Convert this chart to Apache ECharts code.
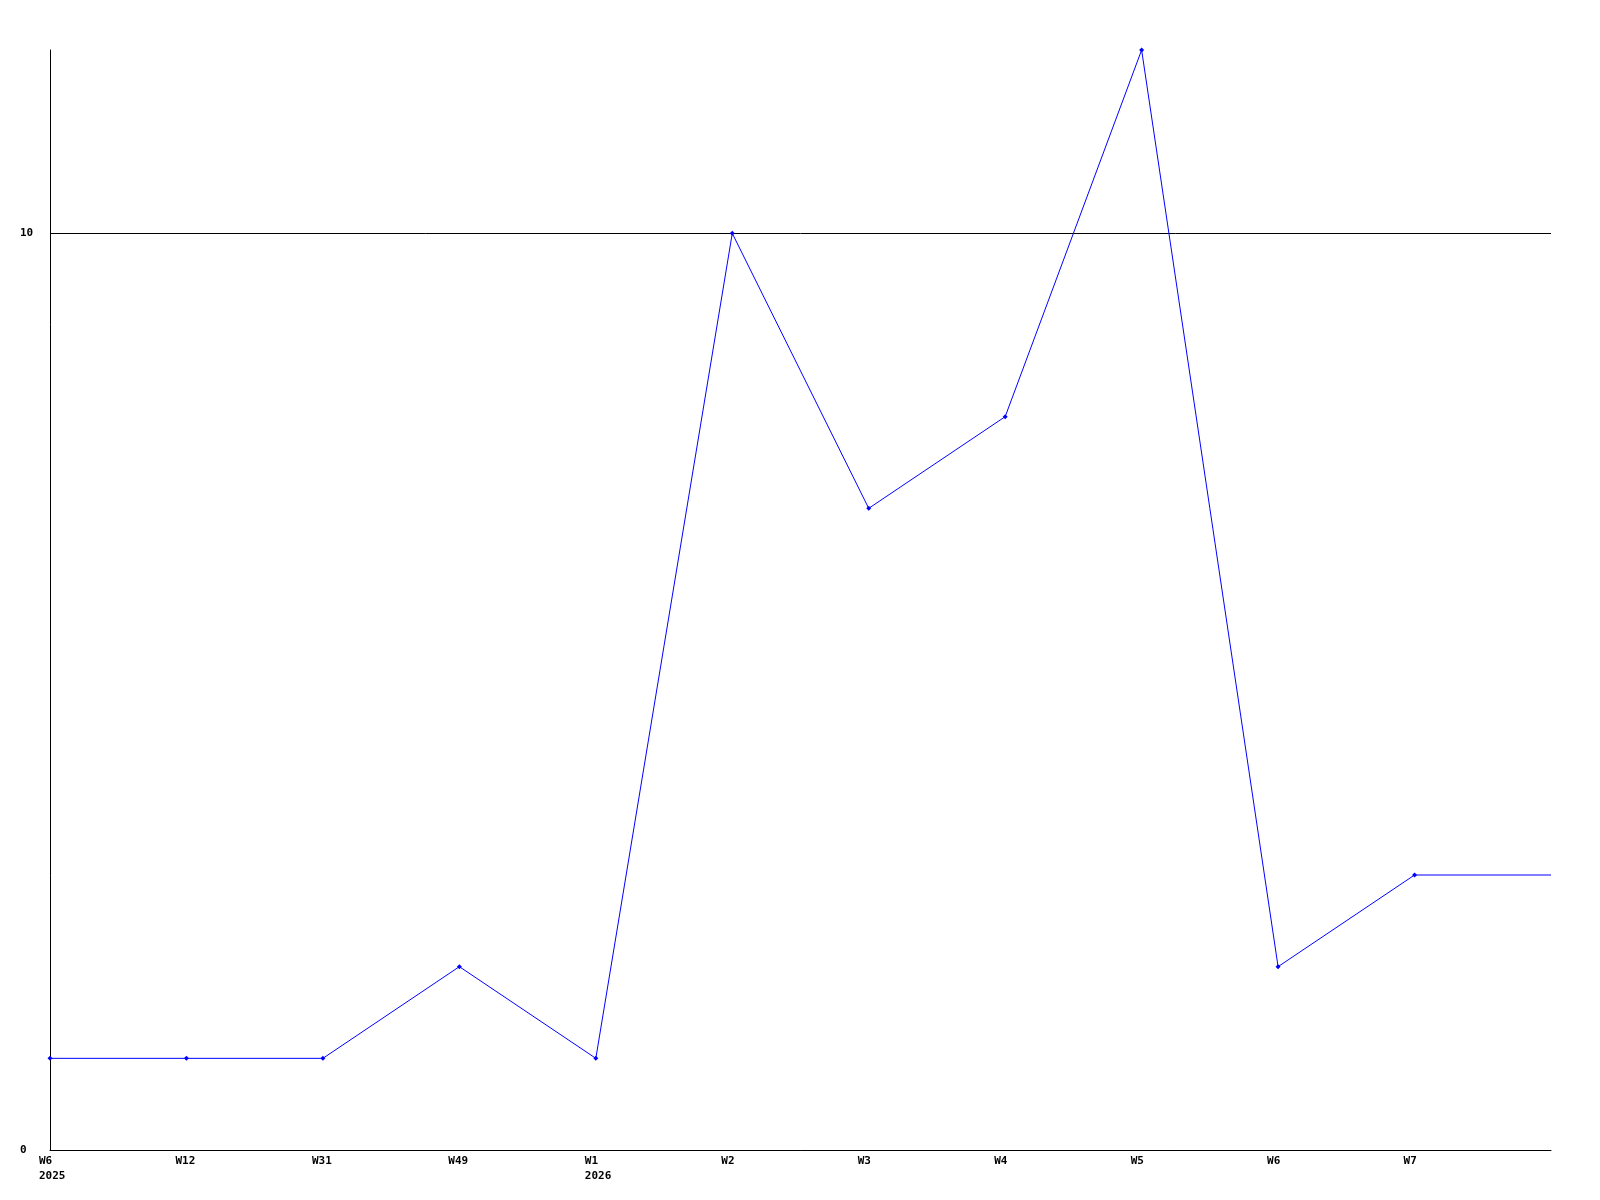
<!DOCTYPE html>
<html>
<head>
<meta charset="utf-8">
<script src="https://cdn.jsdelivr.net/npm/echarts@6/dist/echarts.min.js"></script>
<style>html,body{margin:0;padding:0;background:#fff}#c{width:1600px;height:1200px}</style>
</head>
<body>
<div id="c"></div>
<script>
const categories = ['W6\n2025','W12','W31','W49','W1\n2026','W2','W3','W4','W5','W6','W7',''];
const values = [1,1,1,2,1,10,7,8,12,2,3,3];
const yTicks = [0,10];

const chart = echarts.init(document.getElementById('c'));
const font = 'DejaVu Sans Mono';
chart.setOption({
  animation: false,
  backgroundColor: '#ffffff',
  grid: {left: 50, top: 50, right: 49, bottom: 50, containLabel: false},
  xAxis: {
    type: 'category',
    data: categories,
    boundaryGap: false,
    axisLine: {lineStyle: {color: '#000', width: 1}},
    axisTick: {show: false},
    splitLine: {show: false},
    axisLabel: {
      interval: 0,
      color: '#000', fontFamily: font, fontWeight: 'bold', fontSize: 11,
      lineHeight: 15.5, align: 'left', padding: [0,0,0,-11], margin: 3
    }
  },
  yAxis: {
    type: 'value', min: 0, max: 12, interval: 10,
    axisLine: {show: true, lineStyle: {color: '#000', width: 1}},
    axisTick: {show: false},
    splitLine: {show: true, showMaxLine: false, lineStyle: {color: '#000', width: 1}},
    axisLabel: {
      color: '#000', fontFamily: font, fontWeight: 'bold', fontSize: 11, margin: 30, align: 'left',
      formatter: v => yTicks.includes(v) ? String(v) : ''
    }
  },
  series: [{
    type: 'line',
    data: values.map((v, i) => i === values.length - 1 ? {value: v, symbol: 'none'} : v),
    symbol: 'diamond', symbolSize: 5, showSymbol: true,
    lineStyle: {color: '#0000ff', width: 1},
    itemStyle: {color: '#0000ff'},
    z: 3
  }]
});
</script>
</body>
</html>
